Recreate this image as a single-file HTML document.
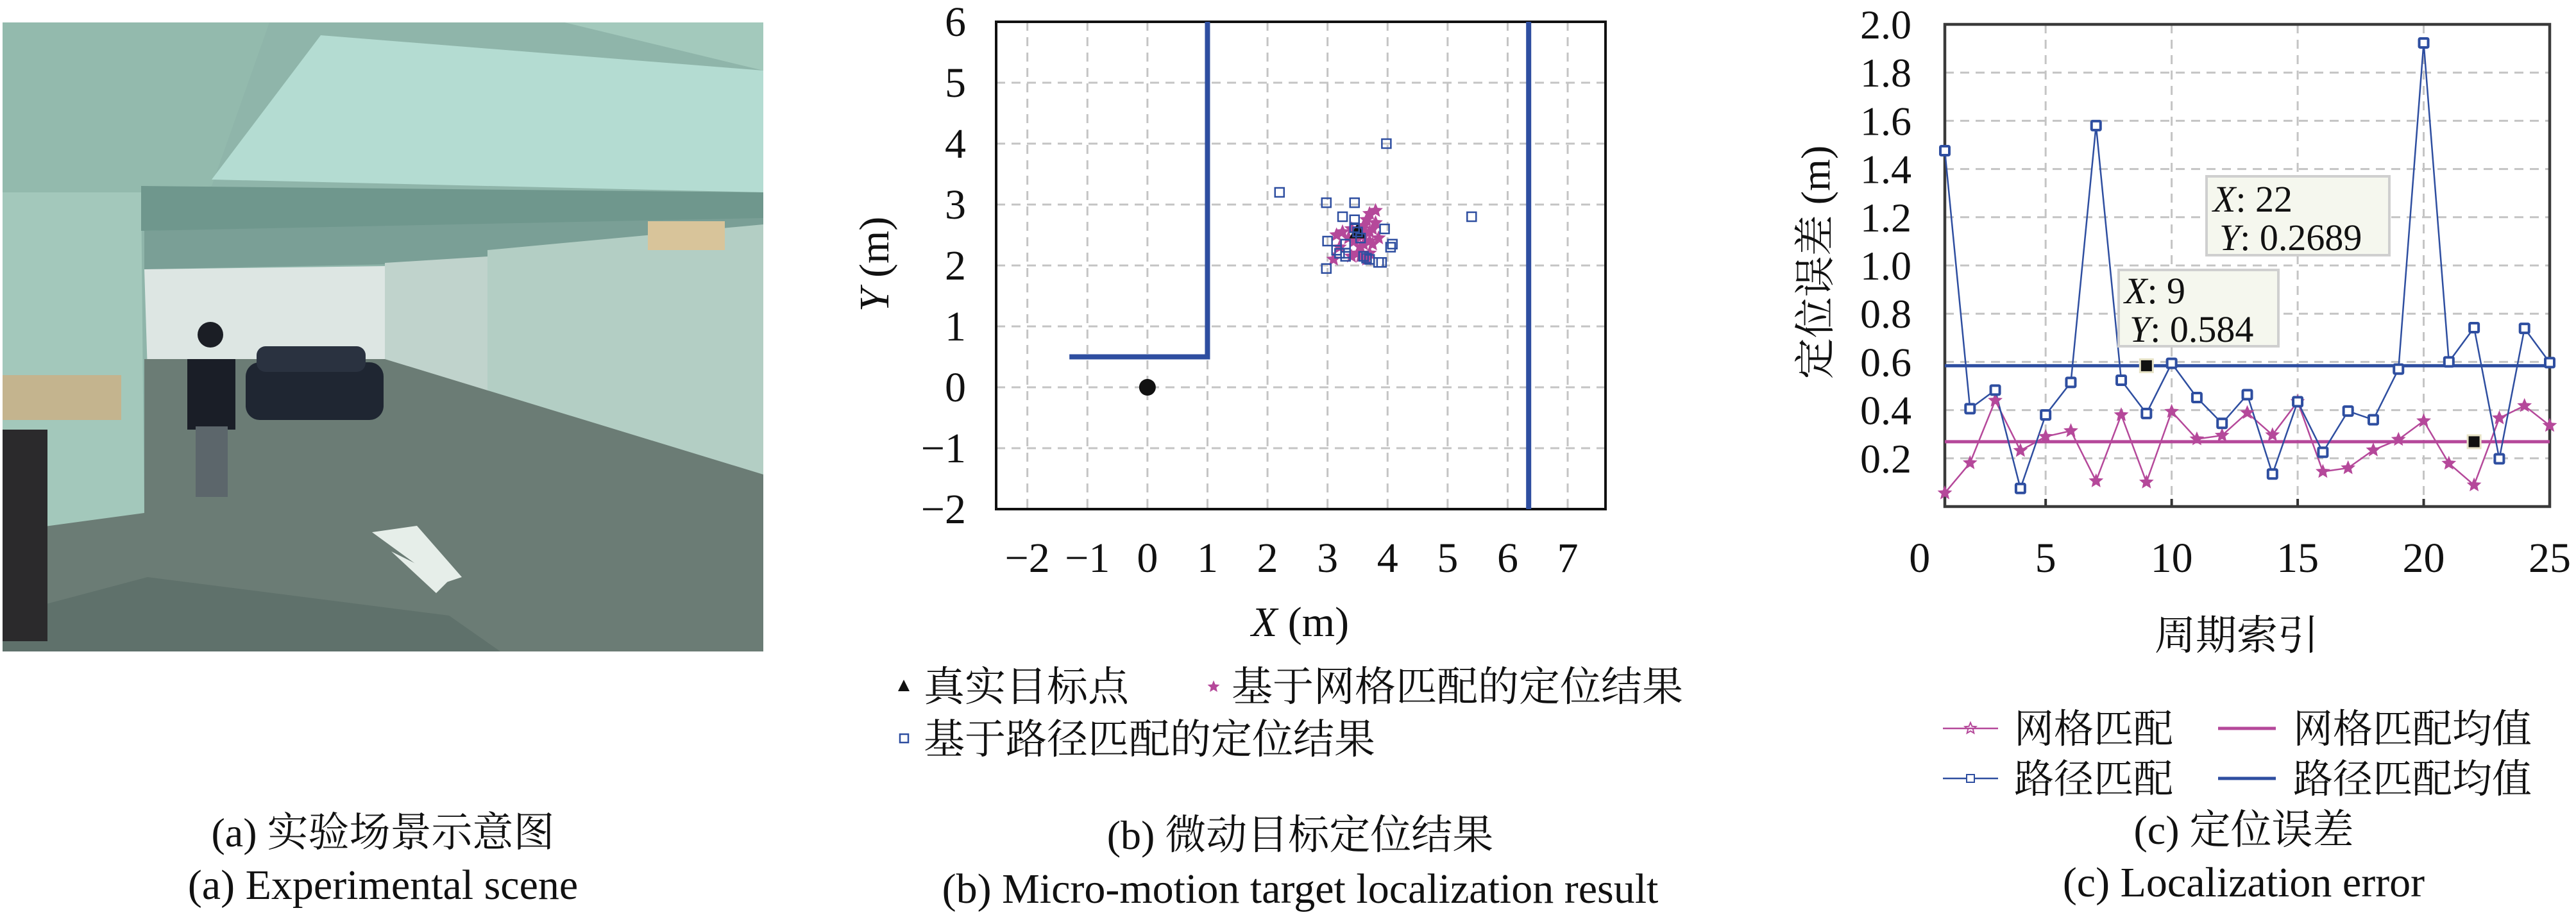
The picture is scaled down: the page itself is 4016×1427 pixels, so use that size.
<!DOCTYPE html>
<html><head><meta charset="utf-8">
<style>
html,body{margin:0;padding:0;background:#fff;}
svg{display:block;font-family:"Liberation Serif","DejaVu Serif","Noto Serif CJK SC",serif;}
text{font-family:"Liberation Serif","DejaVu Serif","Noto Serif CJK SC",serif;fill:#111;}
text.cjk{font-family:"Liberation Serif","Noto Serif CJK SC","Noto Sans CJK SC",serif;}
</style></head>
<body>
<svg id="fig" width="4016" height="1427" viewBox="0 0 4016 1427" xmlns="http://www.w3.org/2000/svg" font-family="Liberation Serif, Noto Serif CJK SC, serif">
 <g id="photo">
  <rect x="4" y="35" width="1186" height="981" fill="#8fb5aa"/>
  <polygon points="4,35 1190,35 1190,110 880,35" fill="#a3c9bc"/>
  <polygon points="4,35 420,35 330,290 220,310 4,300" fill="#93baad"/>
  <polygon points="500,55 1190,110 1190,300 330,280" fill="#b4dcd2"/>
  <polygon points="4,300 220,300 225,820 4,830" fill="#a3c8bb"/>
  <polygon points="220,290 1190,300 1190,350 220,360" fill="#6f978d"/>
  <polygon points="225,360 1190,340 1190,400 225,420" fill="#7a9f96"/>
  <polygon points="225,420 600,415 600,570 230,580" fill="#dde6e3"/>
  <polygon points="600,410 760,400 760,620 600,580" fill="#c0d3cc"/>
  <polygon points="760,390 1190,350 1190,740 760,640" fill="#b3cec4"/>
  <polygon points="225,560 600,560 1190,740 1190,1016 4,1016 4,830 225,800" fill="#6b7c75"/>
  <polygon points="4,1016 4,960 230,900 700,960 780,1016" fill="#5f716b"/>
  <rect x="383" y="565" width="215" height="90" rx="22" fill="#1f2632"/>
  <rect x="400" y="540" width="170" height="40" rx="14" fill="#2a3240"/>
  <rect x="292" y="560" width="75" height="110" fill="#1a1e27"/>
  <rect x="305" y="665" width="50" height="110" fill="#5c666b"/>
  <circle cx="328" cy="522" r="20" fill="#1b1e25"/>
  <rect x="4" y="585" width="185" height="70" fill="#c4b48e"/>
  <rect x="4" y="670" width="70" height="330" fill="#2b2a2c"/>
  <polygon points="580,830 650,820 720,900 690,910" fill="#e6eee9"/>
  <polygon points="610,860 700,905 680,925" fill="#e6eee9"/>
  <rect x="1010" y="345" width="120" height="45" fill="#d8c49a"/>
 </g>
 <text x="597" y="1320" text-anchor="middle" font-size="64" class="cjk">(a) 实验场景示意图</text>
 <text x="597" y="1402" text-anchor="middle" font-size="66">(a) Experimental scene</text>
 <g id="chartB"></g>
 <g id="chartC"></g>
</svg>
<script>
const NS="http://www.w3.org/2000/svg";
function mk(parent,tag,attrs,txt){const e=document.createElementNS(NS,tag);for(const k in attrs)e.setAttribute(k,attrs[k]);if(txt!==undefined)e.textContent=txt;parent.appendChild(e);return e;}
function starPts(cx,cy,R){let p=[];for(let i=0;i<10;i++){const r=i%2?R*0.45:R;const a=-Math.PI/2+i*Math.PI/5;p.push((cx+r*Math.cos(a)).toFixed(1)+","+(cy+r*Math.sin(a)).toFixed(1));}return p.join(" ");}

// ---------- Chart B data ----------
const bXTicks=[-2,-1,0,1,2,3,4,5,6,7];
const bYTicks=[-2,-1,0,1,2,3,4,5,6];
const bWallLX=[-1.3,1,1];
const bWallLY=[0.5,0.5,6];
const bWallRX=[6.35,6.35];
const bWallRY=[-2,6];
const bTruthX=[3.5];
const bTruthY=[2.55];
const bOriginX=[0];
const bOriginY=[0];
const bPathX=[2.2,2.98,3.45,3.98,5.4,3.25,3.45,3.95,3.45,3.0,3.15,3.3,3.3,3.6,3.7,3.85,3.9,4.05,4.08,2.98,3.2,3.65,3.5,3.3,3.55];
const bPathY=[3.2,3.03,3.03,4.0,2.8,2.8,2.75,2.6,2.62,2.4,2.25,2.35,2.15,2.15,2.1,2.05,2.05,2.3,2.35,1.95,2.2,2.12,2.55,2.2,2.45];
const bGridX=[3.7,3.8,3.65,3.75,3.6,3.15,3.25,3.4,3.7,3.85,3.55,3.7,3.1,3.55,3.65,3.2,3.75,3.45,3.6,3.8,3.35,3.5,3.6,3.4,3.7];
const bGridY=[2.85,2.9,2.75,2.6,2.5,2.5,2.55,2.6,2.4,2.45,2.3,2.2,2.1,2.15,2.1,2.3,2.35,2.4,2.65,2.7,2.45,2.2,2.35,2.15,2.55];

(function(){
 const g=document.getElementById('chartB');
 const L=1553,R=2503,T=34,B=794,x0=-2.52,x1=7.63,y0=-2,y1=6;
 const sx=v=>L+(v-x0)/(x1-x0)*(R-L), sy=v=>B-(v-y0)/(y1-y0)*(B-T);
 const blue="#2e4ea0",pink="#b5489a";
 bXTicks.forEach(t=>{
  const l=mk(g,'line',{x1:sx(t),x2:sx(t),y1:T,y2:B,stroke:'#c4c4c4','stroke-width':3,'stroke-dasharray':'14,10'});
  
  
  const tx=mk(g,'text',{x:sx(t),y:892,'text-anchor':'middle','font-size':66},t<0?'\u2212'+(-t):String(t));
  
  
 });
 bYTicks.forEach(t=>{
  const l=mk(g,'line',{x1:L,x2:R,y1:sy(t),y2:sy(t),stroke:'#c4c4c4','stroke-width':3,'stroke-dasharray':'14,10'});
  
  
  const tx=mk(g,'text',{x:1506,y:sy(t)+22,'text-anchor':'end','font-size':66},t<0?'\u2212'+(-t):String(t));
  
  
 });
 const box=mk(g,'rect',{x:L,y:T,width:R-L,height:B-T,fill:'none',stroke:'#111','stroke-width':4});
 
 
 const w1=mk(g,'polyline',{points:bWallLX.map((v,i)=>sx(v)+','+sy(bWallLY[i])).join(' '),fill:'none',stroke:blue,'stroke-width':8});
 
 
 const w2=mk(g,'polyline',{points:bWallRX.map((v,i)=>sx(v)+','+sy(bWallRY[i])).join(' '),fill:'none',stroke:blue,'stroke-width':8});
 
 
 const o=mk(g,'circle',{cx:sx(bOriginX[0]),cy:sy(bOriginY[0]),r:13,fill:'#111'});
 
 
 bGridX.forEach((v,i)=>{
  const s=mk(g,'polygon',{points:starPts(sx(v),sy(bGridY[i]),12),fill:pink});
  
  
 });
 const tr=mk(g,'polygon',{points:`${sx(bTruthX[0])},${sy(bTruthY[0])-14} ${sx(bTruthX[0])-13},${sy(bTruthY[0])+10} ${sx(bTruthX[0])+13},${sy(bTruthY[0])+10}`,fill:'#111'});
 
 
 bPathX.forEach((v,i)=>{
  const s=mk(g,'rect',{x:sx(v)-7,y:sy(bPathY[i])-7,width:14,height:14,fill:'none',stroke:blue,'stroke-width':2.5});
  
  
 });
 const yl=mk(g,'text',{x:0,y:0,'text-anchor':'middle','font-size':66,transform:'translate(1385,412) rotate(-90)'});
 
 
 yl.innerHTML='<tspan font-style="italic">Y</tspan> (m)';
 const xl=mk(g,'text',{x:2027,y:992,'text-anchor':'middle','font-size':66});
 
 
 xl.innerHTML='<tspan font-style="italic">X</tspan> (m)';
 const lt=mk(g,'polygon',{points:'1409,1060 1400,1078 1418,1078',fill:'#111'});
 
 
 const t1=mk(g,'text',{x:1440,y:1093,'font-size':64,class:'cjk'},'真实目标点');
 
 
 const ls=mk(g,'polygon',{points:starPts(1892,1071,10),fill:pink});
 
 
 const t2=mk(g,'text',{x:1920,y:1093,'font-size':64,class:'cjk'},'基于网格匹配的定位结果');
 
 
 const lq=mk(g,'rect',{x:1403,y:1145,width:13,height:13,fill:'none',stroke:blue,'stroke-width':2.5});
 
 
 const t3=mk(g,'text',{x:1440,y:1175,'font-size':64,class:'cjk'},'基于路径匹配的定位结果');
 
 
 const c1=mk(g,'text',{x:2027,y:1324,'text-anchor':'middle','font-size':64,class:'cjk'},'(b) 微动目标定位结果');
 
 
 const c2=mk(g,'text',{x:2027,y:1408,'text-anchor':'middle','font-size':66},'(b) Micro-motion target localization result');
 
 
})();

// ---------- Chart C data ----------
const cIndex=[1,2,3,4,5,6,7,8,9,10,11,12,13,14,15,16,17,18,19,20,21,22,23,24,25];
const cPath=[1.476,0.406,0.483,0.075,0.38,0.515,1.58,0.524,0.386,0.594,0.452,0.345,0.464,0.135,0.435,0.225,0.396,0.36,0.57,1.923,0.6,0.742,0.198,0.739,0.597];
const cGrid=[0.056,0.181,0.44,0.232,0.29,0.314,0.106,0.38,0.101,0.394,0.28,0.295,0.389,0.297,0.435,0.145,0.16,0.234,0.278,0.355,0.179,0.089,0.367,0.418,0.336];
const cPathMean=[0.584];
const cGridMean=[0.2689];
const cXTicks=[0,5,10,15,20,25];
const cYTicks=[0.2,0.4,0.6,0.8,1.0,1.2,1.4,1.6,1.8,2.0];
const cTipX=[9,22];
const cTipY=[0.584,0.2689];

(function(){
 const g=document.getElementById('chartC');
 const L=3032,R=3975,T=38,B=790,x0=1,x1=25,y0=0,y1=2;
 const sx=v=>L+(v-x0)/(x1-x0)*(R-L), sy=v=>B-(v-y0)/(y1-y0)*(B-T);
 const blue="#2e4ea0",pink="#b5489a";
 cXTicks.forEach(t=>{
  if(t>x0&&t<x1){const l=mk(g,'line',{x1:sx(t),x2:sx(t),y1:T,y2:B,stroke:'#c4c4c4','stroke-width':3,'stroke-dasharray':'14,10'});
  
  
  const tk=mk(g,'line',{x1:sx(t),x2:sx(t),y1:B,y2:B-12,stroke:'#333','stroke-width':4});
  
  }
  const tx=mk(g,'text',{x:sx(t),y:892,'text-anchor':'middle','font-size':66},String(t));
  
  
 });
 cYTicks.forEach(t=>{
  if(t<y1){const l=mk(g,'line',{x1:L,x2:R,y1:sy(t),y2:sy(t),stroke:'#c4c4c4','stroke-width':3,'stroke-dasharray':'14,10'});
  
  }
  const tx=mk(g,'text',{x:2980,y:sy(t)+22,'text-anchor':'end','font-size':64},t.toFixed(1));
  
  
 });
 const box=mk(g,'rect',{x:L,y:T,width:R-L,height:B-T,fill:'none',stroke:'#3a3a3a','stroke-width':4.5});
 
 
 const m1=mk(g,'line',{x1:L,x2:R,y1:sy(cPathMean[0]),y2:sy(cPathMean[0]),stroke:blue,'stroke-width':5});
 
 
 const m2=mk(g,'line',{x1:L,x2:R,y1:sy(cGridMean[0]),y2:sy(cGridMean[0]),stroke:pink,'stroke-width':5});
 
 
 const pl1=mk(g,'polyline',{points:cIndex.map((v,i)=>sx(v)+','+sy(cGrid[i])).join(' '),fill:'none',stroke:pink,'stroke-width':2.5});
 
 
 const pl2=mk(g,'polyline',{points:cIndex.map((v,i)=>sx(v)+','+sy(cPath[i])).join(' '),fill:'none',stroke:blue,'stroke-width':2.5});
 
 
 cIndex.forEach((v,i)=>{
  const s=mk(g,'polygon',{points:starPts(sx(v),sy(cGrid[i]),12),fill:pink});
  
  
 });
 cIndex.forEach((v,i)=>{
  const s=mk(g,'rect',{x:sx(v)-7,y:sy(cPath[i])-7,width:14,height:14,fill:'#fff',stroke:blue,'stroke-width':4,rx:1.5});
  
  
 });
 cTipX.forEach((v,i)=>{
  const s=mk(g,'rect',{x:sx(v)-10,y:sy(cTipY[i])-10,width:20,height:20,fill:'#111',stroke:'#e6e2c6','stroke-width':3});
  
  
 });
 const b1=mk(g,'rect',{x:3440,y:275,width:285,height:123,fill:'#f5f7ee',stroke:'#cfcfcf','stroke-width':4});
 
 
 const b1a=mk(g,'text',{x:3450,y:330,'font-size':58});
 
 
 b1a.innerHTML='<tspan font-style="italic">X</tspan>: 22';
 const b1b=mk(g,'text',{x:3460,y:390,'font-size':58});
 
 
 b1b.innerHTML='<tspan font-style="italic">Y</tspan>: 0.2689';
 const b2=mk(g,'rect',{x:3303,y:421,width:249,height:119,fill:'#f5f7ee',stroke:'#cfcfcf','stroke-width':4});
 
 
 const b2a=mk(g,'text',{x:3312,y:473,'font-size':58});
 
 
 b2a.innerHTML='<tspan font-style="italic">X</tspan>: 9';
 const b2b=mk(g,'text',{x:3320,y:533,'font-size':58});
 
 
 b2b.innerHTML='<tspan font-style="italic">Y</tspan>: 0.584';
 const yl=mk(g,'text',{x:0,y:0,'text-anchor':'middle','font-size':64,class:'cjk',transform:'translate(2852,409) rotate(-90)'},'定位误差 (m)');
 
 
 const xl=mk(g,'text',{x:3487,y:1013,'text-anchor':'middle','font-size':64,class:'cjk'},'周期索引');
 
 
 const l1=mk(g,'line',{x1:3029,x2:3115,y1:1136,y2:1136,stroke:pink,'stroke-width':2.5});
 
 
 const l1m=mk(g,'polygon',{points:starPts(3072,1136,9),fill:'none',stroke:pink,'stroke-width':2});
 
 
 const lt1=mk(g,'text',{x:3140,y:1158,'font-size':62,class:'cjk'},'网格匹配');
 
 
 const l2=mk(g,'line',{x1:3458,x2:3548,y1:1136,y2:1136,stroke:pink,'stroke-width':5});
 
 
 const lt2=mk(g,'text',{x:3575,y:1158,'font-size':62,class:'cjk'},'网格匹配均值');
 
 
 const l3=mk(g,'line',{x1:3029,x2:3115,y1:1214,y2:1214,stroke:blue,'stroke-width':2.5});
 
 
 const l3m=mk(g,'rect',{x:3066,y:1208,width:12,height:12,fill:'#fff',stroke:blue,'stroke-width':2});
 
 
 const lt3=mk(g,'text',{x:3140,y:1236,'font-size':62,class:'cjk'},'路径匹配');
 
 
 const l4=mk(g,'line',{x1:3458,x2:3548,y1:1214,y2:1214,stroke:blue,'stroke-width':5});
 
 
 const lt4=mk(g,'text',{x:3575,y:1236,'font-size':62,class:'cjk'},'路径匹配均值');
 
 
 const c1=mk(g,'text',{x:3498,y:1316,'text-anchor':'middle','font-size':64,class:'cjk'},'(c) 定位误差');
 
 
 const c2=mk(g,'text',{x:3498,y:1398,'text-anchor':'middle','font-size':66},'(c) Localization error');
 
 
})();
</script>
</body></html>
